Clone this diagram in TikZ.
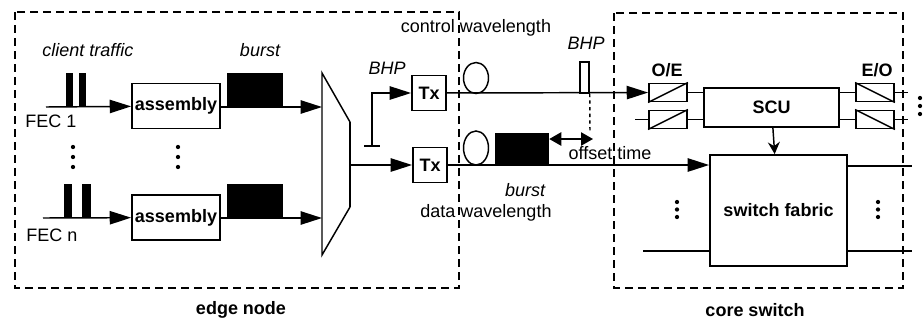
\documentclass[tikz,border=0pt]{standalone}
\usepackage{fontspec}
\setmainfont{Liberation Sans}
\usetikzlibrary{arrows.meta,shapes.geometric}
\begin{document}
\begin{tikzpicture}[x=0.75pt,y=-0.75pt,
  font=\fontsize{13.5}{16}\selectfont,
  ln/.style={line width=1.1pt},
  bx/.style={draw,line width=1.4pt,inner sep=0pt,fill=white},
  blk/.style={fill=black,inner sep=0pt},
  arr/.style={ln,-{Triangle[length=16pt,width=10pt]}},
  frame/.style={line width=1.3pt,dash pattern=on 6pt off 3.75pt},
  bf/.style={font=\fontsize{13.5}{16}\selectfont\bfseries},
  it/.style={font=\fontsize{13.5}{16}\selectfont\itshape},
  dotc/.style={circle,fill=black,inner sep=0pt,minimum size=3.5pt},
  oval/.style={ellipse,draw,line width=1.1pt,inner sep=0pt,minimum width=18.75pt},
  conv/.style={draw,line width=1.4pt,inner sep=0pt,minimum width=28.5pt,minimum height=13.5pt}
]
\useasboundingbox (0,0) rectangle (923,326);

% frames
\draw[frame] (15,12) rectangle (459,288);
\draw[frame] (614,13) rectangle (903,288);
\node[bf] (edgelbl) at (241,310) {edge node};
\node[bf] (corelbl) at (755,310) {core switch};

% ----- edge node -----
\node[it] (clbl) at (88,50) {client traffic};
\node[it] (blbl) at (260,50) {burst};

\coordinate (f1) at (46,107);
\coordinate (fn) at (43,218);
\node[bx,bf,minimum width=66pt,minimum height=33.75pt] (asm1) at (176,106) {assembly};
\node[bx,bf,minimum width=66pt,minimum height=33.75pt] (asmn) at (176,217.5) {assembly};
\coordinate (muxin1) at (322,107);
\coordinate (muxinn) at (322,218);
\coordinate (muxout) at (350,165);

\draw[arr] (f1) -- (asm1);
\draw[arr] (fn) -- (asmn);
\draw[arr] (asm1.east |- muxin1) -- (muxin1);
\draw[arr] (asmn.east |- muxinn) -- (muxinn);

\fill (66,73) rectangle (73,107);
\fill (79,73) rectangle (86,107);
\fill (64,184) rectangle (72,218);
\fill (82,184) rectangle (91,218);
\node[blk,minimum width=42pt,minimum height=25.5pt] (b1) at (255,90) {};
\node[blk,minimum width=42pt,minimum height=25.5pt] (bn) at (255,201) {};

\node (fec1) at (51,121) {FEC 1};
\node (fecn) at (52,235) {FEC n};

\foreach \x in {73,178}{
  \foreach \y in {147,157,167}{
    \fill (\x,\y) circle[radius=1.6pt];
  }
}

% multiplexer
\draw[ln] (322,73) -- (350,122) -- (350,207) -- (322,255) -- cycle;
\draw[line width=2pt] (350,122) -- (350,207);

% transmitters
\node[bx,bf,minimum width=25.5pt,minimum height=26.25pt] (tx1) at (429,93) {Tx};
\node[bx,bf,minimum width=25.5pt,minimum height=26.25pt] (tx2) at (430,165) {Tx};
\draw[arr] (muxout) -- (tx2);
\coordinate (bt) at (372,146);
\draw[arr] (bt) |- (tx1);
\draw[ln] (364,146) -- (380,146);
\node[it] (bhp1) at (387,68) {BHP};

% ----- link -----
\node (ctrlw) at (476,28) {control wavelength};
\node (dataw) at (486,213) {data wavelength};
\node[it] (bhp2) at (586,43) {BHP};
\node[it] (burst2lbl) at (525,190) {burst};
\node (offs) at (610,153) {offset time};

\node[oval,minimum height=23.25pt] (ov1) at (476,78) {};
\node[oval,minimum height=25.5pt] (ov2) at (476,148) {};

% ----- core switch -----
\node[bf] (oelbl) at (667,70) {O/E};
\node[bf] (eolbl) at (877,70) {E/O};
\node[conv] (oe1) at (668,92.5) {};
\node[conv] (oe2) at (668,119.5) {};
\node[conv] (eo1) at (875,92.5) {};
\node[conv] (eo2) at (875,119.5) {};
\draw[ln] (oe1.south west) -- (oe1.north east);
\draw[ln] (oe2.south west) -- (oe2.north east);
\draw[ln] (eo1.north west) -- (eo1.south east);
\draw[ln] (eo2.north west) -- (eo2.south east);

\node[bx,bf,minimum width=101.25pt,minimum height=29.25pt] (scu) at (771.5,107.5) {SCU};
\node[bx,bf,minimum width=102.75pt,minimum height=83.25pt] (sf) at (778.5,210.5) {switch fabric};

\draw[arr] (tx1) -- (oe1);
\draw[arr] (tx2.east) -- (tx2.east -| sf.west);

\coordinate (oe2in) at (635,119.5);
\draw[ln] (oe2in) -- (oe2);
\draw[ln] (oe1.east) -- (oe1.east -| scu.west);
\draw[ln] (oe2.east) -- (oe2.east -| scu.west);
\draw[ln] (eo1.west -| scu.east) -- (eo1.west);
\draw[ln] (eo2.west -| scu.east) -- (eo2.west);
\coordinate (eo1out) at (908,92.5);
\coordinate (eo2out) at (908,119.5);
\draw[ln] (eo1) -- (eo1out);
\draw[ln] (eo2) -- (eo2out);
\foreach \y in {98,106,114}{ \fill (920,\y) circle[radius=1.6pt]; }

\draw[ln,-{Stealth[length=9pt,width=9pt,inset=3pt]}] (scu) -- (sf);

\coordinate (sfo1) at (912,166);
\coordinate (sfin2) at (643,251);
\coordinate (sfo2) at (912,251);
\draw[ln] (sf.east |- sfo1) -- (sfo1);
\draw[ln] (sfin2) -- (sfin2 -| sf.west);
\draw[ln] (sf.east |- sfo2) -- (sfo2);
\foreach \x in {677,878}{
  \foreach \y in {202,209.5,217}{
    \fill (\x,\y) circle[radius=1.6pt];
  }
}

% bursts on the link
\node[blk,minimum width=40.5pt,minimum height=24pt] (db) at (522,149) {};
\node[draw,fill=white,line width=1.1pt,inner sep=0pt,minimum width=6.75pt,minimum height=23.25pt] (cb) at (584.5,77.5) {};
\coordinate (dotend) at (590,132);
\draw[ln,dash pattern=on 2.5pt off 2.5pt] (cb.south east) -- (dotend);
\coordinate (offend) at (593,139);
\draw[ln,{Triangle[length=9pt,width=10pt]}-{Triangle[length=9pt,width=10pt]}] (db.east |- offend) -- (offend);
\end{tikzpicture}
\end{document}
